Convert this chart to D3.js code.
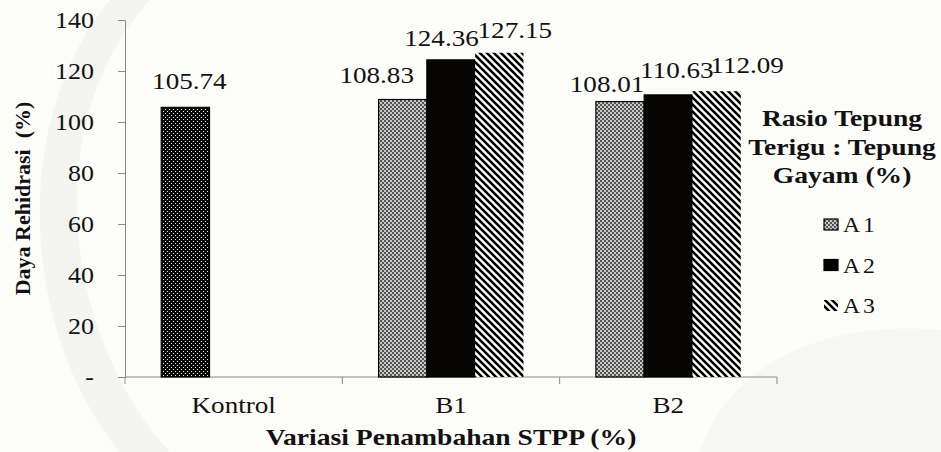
<!DOCTYPE html>
<html>
<head>
<meta charset="utf-8">
<script src="https://cdn.jsdelivr.net/npm/d3@7"></script>
<style>
  html, body { margin: 0; padding: 0; background: #fcfcf9; }
  svg { display: block; }
</style>
</head>
<body>
<svg id="chart" width="941" height="452"></svg>
<script>
// Daya rehidrasi per variasi penambahan STPP dan rasio tepung
const categories = ["Kontrol", "B1", "B2"];
const seriesNames = ["A1", "A2", "A3"];
const valuesA1 = [105.74, 108.83, 108.01];
const valuesA2 = [null, 124.36, 110.63];
const valuesA3 = [null, 127.15, 112.09];
const yTicks = [0, 20, 40, 60, 80, 100, 120, 140];
const yTickLabels = ["-", "20", "40", "60", "80", "100", "120", "140"];
const legendTitle = ["Rasio Tepung", "Terigu : Tepung", "Gayam (%)"];
const xTitle = "Variasi Penambahan STPP (%)";
const yTitle = "Daya Rehidrasi\u00a0 (%)";

const FONT = "Liberation Serif";
const SX = 1.13; // horizontal stretch of the horizontal text
const svg = d3.select("#chart");
const defs = svg.append("defs");

function label(x, y, txt, size, opts = {}) {
  const sx = opts.sx || SX;
  return svg.append("text")
    .attr("transform", opts.transform || `translate(${x},${y}) scale(${sx},1)`)
    .attr("text-anchor", opts.anchor || "start")
    .attr("font-family", FONT)
    .attr("font-size", size)
    .attr("font-weight", opts.bold ? "bold" : "normal")
    .attr("fill", "#111")
    .text(txt);
}

// faint background shapes
svg.append("path")
  .attr("d", "M150,0 C40,120 60,330 170,452 L120,452 C20,330 10,120 110,0 Z")
  .attr("fill", "#f1f1ef").attr("opacity", 0.7);
svg.append("path")
  .attr("d", "M700,452 C730,360 830,320 941,330 L941,452 Z")
  .attr("fill", "#f3f3f1").attr("opacity", 0.7);

// fill patterns
const pDots = defs.append("pattern").attr("id", "pKontrol")
  .attr("patternUnits", "userSpaceOnUse").attr("width", 4).attr("height", 4);
pDots.append("rect").attr("width", 4).attr("height", 4).attr("fill", "#0a0a0a");
pDots.append("rect").attr("x", 1).attr("y", 1).attr("width", 1).attr("height", 1).attr("fill", "#e8e8e8");
pDots.append("rect").attr("x", 3).attr("y", 3).attr("width", 1).attr("height", 1).attr("fill", "#e8e8e8");

const pGrey = defs.append("pattern").attr("id", "pA1")
  .attr("patternUnits", "userSpaceOnUse").attr("width", 4).attr("height", 4);
pGrey.append("rect").attr("width", 4).attr("height", 4).attr("fill", "#c8c8c8");
pGrey.append("rect").attr("x", 0).attr("y", 0).attr("width", 2).attr("height", 2).attr("fill", "#555");
pGrey.append("rect").attr("x", 2).attr("y", 2).attr("width", 2).attr("height", 2).attr("fill", "#555");

const pStripe = defs.append("pattern").attr("id", "pA3")
  .attr("patternUnits", "userSpaceOnUse").attr("width", 7).attr("height", 7);
pStripe.append("rect").attr("width", 7).attr("height", 7).attr("fill", "#fff");
pStripe.append("path").attr("d", "M-2,-2 L9,9 M-2,5 L2,9 M5,-2 L9,2")
  .attr("stroke", "#000").attr("stroke-width", 2.6);

const fills = { A1: "url(#pA1)", A2: "#050403", A3: "url(#pA3)" };

// scales
const margin = { left: 125, right: 777, top: 20, bottom: 377 };
const y = d3.scaleLinear().domain([0, 140]).range([margin.bottom, margin.top]);
const x0 = d3.scaleBand().domain(categories).range([margin.left, margin.right]).paddingInner(0).paddingOuter(0);
// clustered bars with a gap of 1.5 bar widths between clusters
const x1 = d3.scaleBand().domain(seriesNames).range([0, x0.bandwidth()])
  .paddingInner(0).paddingOuter(0.75);

// y axis
const yAxis = svg.append("g").attr("transform", `translate(${margin.left},0)`)
  .call(d3.axisLeft(y).tickValues(yTicks).tickSize(7).tickFormat("").tickSizeOuter(0));
yAxis.select(".domain").attr("stroke", "#8a8a8a");
yAxis.selectAll(".tick line").attr("stroke", "#8a8a8a");
yTicks.forEach((t, i) => {
  label(94, y(t) + 7.5, yTickLabels[i], 23, { anchor: "end" });
});

// x axis
const xAxisG = svg.append("g").attr("transform", `translate(0,${margin.bottom})`);
xAxisG.append("line").attr("x1", margin.left).attr("x2", margin.right)
  .attr("stroke", "#8a8a8a");
const bounds = categories.map(c => x0(c)).concat([x0(categories[categories.length - 1]) + x0.bandwidth()]);
xAxisG.selectAll("line.tk").data(bounds).join("line").attr("class", "tk")
  .attr("x1", d => d).attr("x2", d => d).attr("y1", 0).attr("y2", 7)
  .attr("stroke", "#8a8a8a");
categories.forEach(c => {
  label(x0(c) + x0.bandwidth() / 2, margin.bottom + 36, c, 24, { anchor: "middle" });
});

// bars
const rows = [];
categories.forEach((c, i) => {
  [valuesA1[i], valuesA2[i], valuesA3[i]].forEach((v, j) => {
    if (v != null) rows.push({ cat: c, ci: i, s: seriesNames[j], v });
  });
});
svg.append("g").selectAll("rect").data(rows).join("rect")
  .attr("x", d => x0(d.cat) + x1(d.s))
  .attr("y", d => y(d.v))
  .attr("width", x1.bandwidth())
  .attr("height", d => y(0) - y(d.v))
  .attr("fill", d => d.cat === "Kontrol" ? "url(#pKontrol)" : fills[d.s])
  .attr("stroke", d => d.s === "A3" ? "none" : "#000")
  .attr("stroke-width", 1.2);

// value labels, nudged apart where neighbours crowd
const nudge = {
  "Kontrol-A1": [4, -18], "B1-A1": [-26, -16.5], "B1-A2": [-9.5, -14], "B1-A3": [15.5, -14.5],
  "B2-A1": [-13, -10], "B2-A2": [8.5, -17], "B2-A3": [30.5, -18.5]
};
rows.forEach(d => {
  const n = nudge[d.cat + "-" + d.s];
  const cx = x0(d.cat) + x1(d.s) + x1.bandwidth() / 2 + n[0];
  label(cx, y(d.v) + n[1], d.v.toFixed(2), 24, { anchor: "middle" });
});

// axis titles
label((margin.left + margin.right) / 2, 445, xTitle, 23, { anchor: "middle", bold: true, sx: 1.2 });
label(0, 0, yTitle, 22, {
  anchor: "middle", bold: true,
  transform: `translate(30,${(margin.top + margin.bottom) / 2}) rotate(-90)`
});

// legend
legendTitle.forEach((t, i) => {
  label(842, 126 + i * 28.5, t, 23, { anchor: "middle", bold: true, sx: 1.2 });
});
seriesNames.forEach((s, i) => {
  const yy = 232 + i * 40.5;
  svg.append("rect").attr("x", 824).attr("y", yy - 13).attr("width", 14).attr("height", 11)
    .attr("fill", fills[s]).attr("stroke", s === "A3" ? "none" : "#000").attr("stroke-width", 1.2);
  label(843, yy, s, 21).attr("letter-spacing", 2.5);
});
</script>
</body>
</html>
